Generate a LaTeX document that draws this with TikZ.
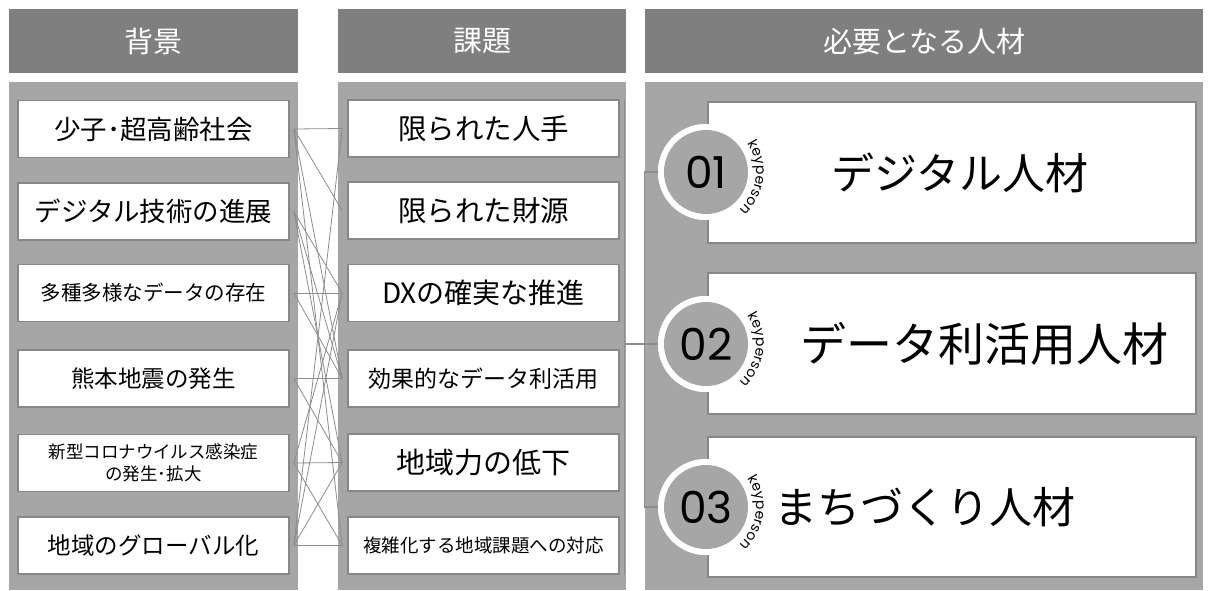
\documentclass[tikz,border=0pt]{standalone}
\usepackage{fontspec}
\setmainfont{Noto Sans CJK JP}
\newfontfamily\numfont{Poppins}
\newfontfamily\kpfont{Poppins}
\usetikzlibrary{decorations.text}
\definecolor{hdrgray}{HTML}{7F7F7F}
\definecolor{pnlgray}{HTML}{A6A6A6}
\definecolor{bdrgray}{HTML}{878787}
\definecolor{lnkgray}{HTML}{8C8C8C}
\tikzset{
  hdrbox/.style={fill=hdrgray, text=white, inner sep=0pt, anchor=north west, font=\fontsize{29}{32}\selectfont},
  pnlbox/.style={fill=pnlgray, inner sep=0pt, anchor=north west},
  itembox/.style={draw=bdrgray, line width=1.6pt, fill=white, inner sep=0pt, align=center, minimum width=271pt, minimum height=57pt},
  bigbox/.style={draw=bdrgray, line width=1.6pt, fill=white, inner sep=0pt, minimum width=488pt},
  bigtext/.style={inner sep=0pt},
  ring/.style={circle, fill=white, minimum size=96pt, inner sep=0pt},
  numdisc/.style={circle, fill=pnlgray, minimum size=84pt, inner sep=0pt, font=\numfont\fontsize{44}{44}\selectfont},
  link/.style={draw=lnkgray, line width=0.8pt},
}
\begin{document}
\begin{tikzpicture}[x=1pt,y=-1pt]
\useasboundingbox (0,0) rectangle (1210,590);
\fill[white] (0,0) rectangle (1210,590);

% headers
\node[hdrbox, minimum width=289pt, minimum height=64pt] (h1) at (9,9) {背景};
\node[hdrbox, minimum width=288pt, minimum height=64pt] (h2) at (338,9) {課題};
\node[hdrbox, minimum width=558pt, minimum height=64pt] (h3) at (645,9) {必要となる人材};

% panels
\node[pnlbox, minimum width=289pt, minimum height=508pt] (p1) at (9,82) {};
\node[pnlbox, minimum width=288pt, minimum height=508pt] (p2) at (338,82) {};
\node[pnlbox, minimum width=558pt, minimum height=508pt] (p3) at (645,82) {};

% left items
\node[itembox, font=\fontsize{26.5}{30}\selectfont] (l1) at (153.5,129) {少子･超高齢社会};
\node[itembox, font=\fontsize{26.5}{30}\selectfont] (l2) at (153.5,211.5) {デジタル技術の進展};
\node[itembox, font=\fontsize{20.5}{24}\selectfont] (l3) at (153.5,293) {多種多様なデータの存在};
\node[itembox, font=\fontsize{23.5}{26}\selectfont] (l4) at (153.5,378.5) {熊本地震の発生};
\node[itembox, font=\fontsize{17.5}{22}\selectfont] (l5) at (153.5,463) {新型コロナウイルス感染症\\の発生･拡大};
\node[itembox, font=\fontsize{23.5}{26}\selectfont] (l6) at (153.5,545.5) {地域のグローバル化};

% middle items
\node[itembox, font=\fontsize{28.5}{30}\selectfont] (m1) at (483.5,128.5) {限られた人手};
\node[itembox, font=\fontsize{28.5}{30}\selectfont] (m2) at (483.5,210.5) {限られた財源};
\node[itembox, font=\fontsize{28}{30}\selectfont] (m3) at (483.5,293) {DXの確実な推進};
\node[itembox, font=\fontsize{23}{26}\selectfont] (m4) at (483.5,378.5) {効果的なデータ利活用};
\node[itembox, font=\fontsize{29}{30}\selectfont] (m5) at (483.5,462.5) {地域力の低下};
\node[itembox, font=\fontsize{18.5}{22}\selectfont] (m6) at (483.5,545.5) {複雑化する地域課題への対応};

% right column line
\coordinate (vt) at (624.5,100);
\coordinate (vb) at (624.5,575);
\coordinate (vm) at (624.5,344);
\draw[link, line width=1.2pt] (vt) -- (vb);

% right items
\node[bigbox, minimum height=141pt] (r1) at (952,172.5) {};
\node[bigbox, minimum height=141pt] (r2) at (952,343.5) {};
\node[bigbox, minimum height=140pt] (r3) at (952,507) {};
\node[bigtext, font=\fontsize{43}{46}\selectfont] (t1) at (960,172.5) {デジタル人材};
\node[bigtext, font=\fontsize{46}{48}\selectfont] (t2) at (984,343.5) {データ利活用人材};
\node[bigtext, font=\fontsize{43}{46}\selectfont] (t3) at (925,507) {まちづくり人材};

% circle anchors (rings)
\node[ring] (c1) at (706,172) {};
\node[ring] (c2) at (706,344) {};
\node[ring] (c3) at (706,507) {};

% bracket connectors
\draw[link, line width=1.2pt] (c1.west) -- ++(-13,0) |- (c3.west);
\draw[link, line width=1.2pt] (vm) -- (c2.west);

% redraw rings over connectors
\node[ring] (c1b) at (c1) {};
\node[ring] (c2b) at (c2) {};
\node[ring] (c3b) at (c3) {};
\node[numdisc] (n1) at (c1) {01};
\node[numdisc] (n2) at (c2) {02};
\node[numdisc] (n3) at (c3) {03};

\foreach \c in {c1,c2,c3}{
  \path[decorate, decoration={text along path, text align=center, text={|\kpfont\fontsize{14}{14}\selectfont|keyperson}}]
    ([shift={(-58:50)}]\c.center) arc[start angle=-58, end angle=72, radius=50];
}

% background -> issue links
\foreach \a/\b in {l1/m1, l1/m2, l1/m4, l1/m6,
                   l2/m3, l2/m4, l2/m5,
                   l3/m3, l3/m4,
                   l4/m4, l4/m5,
                   l5/m5, l5/m6, l5/m3,
                   l6/m6, l6/m5, l6/m3, l6/m1}{
  \draw[link] ([xshift=4pt]\a.east) -- ([xshift=-5pt]\b.west);
}
\end{tikzpicture}
\end{document}
